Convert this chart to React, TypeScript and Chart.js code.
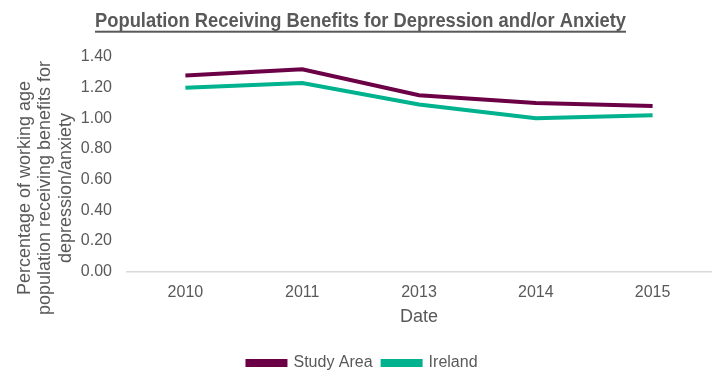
import React, { useEffect, useRef } from "react";
import { Chart, registerables } from "chart.js";

Chart.register(...registerables);

const categories = ["2010", "2011", "2013", "2014", "2015"];
const studyArea = [1.28, 1.32, 1.15, 1.1, 1.08];
const ireland = [1.2, 1.23, 1.09, 1.0, 1.02];
const seriesNames = ["Study Area", "Ireland"];
const titleText = "Population Receiving Benefits for Depression and/or Anxiety";
const yTitleLines = [
  "Percentage of working age",
  "population receiving benefits for",
  "depression/anxiety",
];
const xTitleText = "Date";

const FONT = "'Liberation Sans', Arial, Helvetica, sans-serif";
const TEXT = "#595959";

const extrasPlugin = {
  id: "extras",
  afterDraw(chart: any) {
    const ctx = chart.ctx;
    ctx.save();
    // chart title (bold, underlined)
    ctx.font = `bold 19.5px ${FONT}`;
    ctx.fillStyle = TEXT;
    ctx.textAlign = "center";
    ctx.textBaseline = "alphabetic";
    const natural = ctx.measureText(titleText).width;
    const targetW = 531;
    const sx = targetW / natural;
    const cx = 360.5;
    ctx.save();
    ctx.translate(cx, 27.3);
    ctx.scale(sx, 1);
    ctx.fillText(titleText, 0, 0);
    ctx.restore();
    ctx.fillRect(cx - targetW / 2, 30.7, targetW, 2);

    // y axis title
    ctx.font = `18px ${FONT}`;
    ctx.textAlign = "center";
    ctx.textBaseline = "middle";
    const xs = [25, 45.5, 66];
    yTitleLines.forEach((line, i) => {
      ctx.save();
      ctx.translate(xs[i], 188);
      ctx.rotate(-Math.PI / 2);
      ctx.fillText(line, 0, 0);
      ctx.restore();
    });
    ctx.restore();
  },
};

export default function App() {
  const ref = useRef<HTMLCanvasElement>(null);
  useEffect(() => {
    document.body.style.margin = "0";
    const canvas = ref.current;
    if (!canvas) return;
    const chart = new Chart(canvas, {
      type: "line",
      data: {
        labels: categories,
        datasets: [
          {
            label: seriesNames[0],
            data: studyArea,
            borderColor: "#6C0046",
            backgroundColor: "#6C0046",
            borderWidth: 4,
            pointRadius: 0,
            tension: 0,
          },
          {
            label: seriesNames[1],
            data: ireland,
            borderColor: "#00B28E",
            backgroundColor: "#00B28E",
            borderWidth: 4,
            pointRadius: 0,
            tension: 0,
          },
        ],
      },
      options: {
        responsive: false,
        animation: false,
        devicePixelRatio: 1,
        layout: { padding: { left: 14, right: 7, top: 57, bottom: -10 } },
        font: { family: FONT },
        color: TEXT,
        plugins: {
          title: { display: false },
          legend: {
            position: "bottom",
            labels: {
              color: TEXT,
              font: { family: FONT, size: 16 },
              boxWidth: 38,
              boxHeight: 4,
              padding: 10,
            },
          },
          tooltip: { enabled: false },
        },
        scales: {
          x: {
            offset: true,
            grid: { display: false, drawTicks: false },
            border: { display: true, color: "#D9D9D9", width: 1.5 },
            ticks: {
              color: TEXT,
              font: { family: FONT, size: 16, lineHeight: 1 },
              padding: 13,
              maxRotation: 0,
            },
            title: {
              display: true,
              text: xTitleText,
              color: TEXT,
              font: { family: FONT, size: 18, lineHeight: 1 },
              padding: { top: -5.5, bottom: 19 },
            },
          },
          y: {
            min: 0,
            max: 1.4,
            grid: { display: false, drawTicks: false },
            border: { display: false },
            afterFit: (scale: any) => {
              scale.width = 113;
            },
            ticks: {
              stepSize: 0.2,
              color: TEXT,
              font: { family: FONT, size: 16 },
              padding: 15,
              callback: (v: any) => Number(v).toFixed(2),
            },
          },
        },
      },
      plugins: [extrasPlugin],
    });
    return () => chart.destroy();
  }, []);
  return (
    <div style={{ width: 718, height: 371 }}>
      <canvas ref={ref} width={718} height={371} style={{ display: "block" }} />
    </div>
  );
}
